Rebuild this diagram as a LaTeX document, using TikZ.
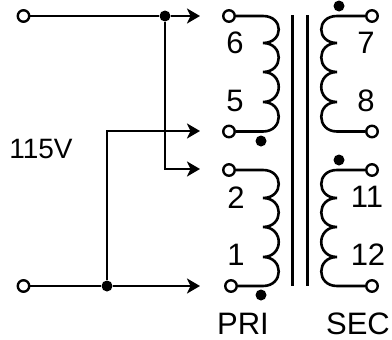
\documentclass[tikz,border=0pt]{standalone}
\usepackage{fontspec}
\setmainfont{Liberation Sans}
\usetikzlibrary{arrows.meta}
\newcommand{\coil}[6]{% start, end, x of cusps, bulge, y of first lead, list of turns
    \draw[coilwire] (#1) -- (#3,#5)
    \foreach \ya/\yb in {#6} { .. controls (#3+#4,\ya) and (#3+#4,\yb) .. (#3,\yb) }
    -- (#2);
}
\begin{document}
\begin{tikzpicture}[
        x=1pt, y=-1pt,
        wire/.style={line width=2.4pt},
        feed/.style={wire, -{Stealth[length=13pt, width=15pt, inset=3.5pt]}},
        coilwire/.style={line width=2.6pt},
        core/.style={line width=2.6pt},
        terminal/.style={circle, draw, line width=2.4pt, fill=white, minimum size=11.5pt, inner sep=0pt},
        joint/.style={circle, fill=black, minimum size=11pt, inner sep=0pt},
        phase/.style={circle, fill=black, minimum size=11pt, inner sep=0pt},
        pin/.style={font=\fontsize{31}{31}\selectfont, inner sep=0pt},
        tag/.style={font=\fontsize{31}{31}\selectfont, inner sep=0pt},
        mains/.style={font=\fontsize{28}{28}\selectfont, inner sep=0pt}
    ]
        \useasboundingbox (0,0) rectangle (392,340);

        % Transformer core
        \coordinate (c1a) at (292.7,15);
        \coordinate (c1b) at (292.7,286);
        \coordinate (c2a) at (307.3,15);
        \coordinate (c2b) at (307.3,286);
        \draw[core] (c1a) -- (c1b);
        \draw[core] (c2a) -- (c2b);

        % Primary and secondary terminals
        \node[terminal] (t6) at (229,16) {};
        \node[terminal] (t5) at (229,131.5) {};
        \node[terminal] (t2) at (229,170) {};
        \node[terminal] (t1) at (231,286) {};
        \node[terminal] (t7) at (372,16) {};
        \node[terminal] (t8) at (372,131.5) {};
        \node[terminal] (t11) at (372,170) {};
        \node[terminal] (t12) at (372,286) {};

        % Windings
        \coil{t6}{t5}{263}{21}{16}{16/43,43/72,72/102,102/131.5}
        \coil{t2}{t1}{263}{21}{170}{170/198,198/227,227/257,257/286}
        \coil{t7}{t8}{337}{-21}{16}{16/43,43/72,72/102,102/131.5}
        \coil{t11}{t12}{337}{-21}{170}{170/198,198/227,227/257,257/286}

        % Phase dots
        \node[phase] (d7) at (339,6) {};
        \node[phase] (d5) at (261,141) {};
        \node[phase] (d11) at (339,160) {};
        \node[phase] (d1) at (261,295) {};

        % Line inputs
        \node[terminal] (top) at (23.5,16) {};
        \node[terminal] (bot) at (23.5,286) {};
        \node[joint] (jtop) at (165,16) {};
        \node[joint] (jbot) at (107,286) {};
        \coordinate (a6) at (200,16);
        \coordinate (a5) at (200,131);
        \coordinate (a2) at (200,169);
        \coordinate (a1) at (200,286);
        \draw[wire] (top) -- (jtop);
        \draw[wire] (bot) -- (jbot);
        \draw[feed] (jtop) -- (a6);
        \draw[feed] (jbot) -- (a1);
        \draw[feed] (jbot) |- (a5);
        \draw[feed] (jtop) |- (a2);

        % Labels
        \node[pin] (l6) at (235,43) {6};
        \node[pin] (l5) at (235,101) {5};
        \node[pin] (l2) at (236,198) {2};
        \node[pin] (l1) at (236,255) {1};
        \node[pin] (l7) at (366,43) {7};
        \node[pin] (l8) at (366,101) {8};
        \node[pin] (l11) at (367,197) {11};
        \node[pin] (l12) at (368,255) {12};
        \node[tag] (pri) at (243,324) {PRI};
        \node[tag] (sec) at (358,324) {SEC};
        \node[mains] (volt) at (41,149) {115V};

    \end{tikzpicture}
\end{document}
